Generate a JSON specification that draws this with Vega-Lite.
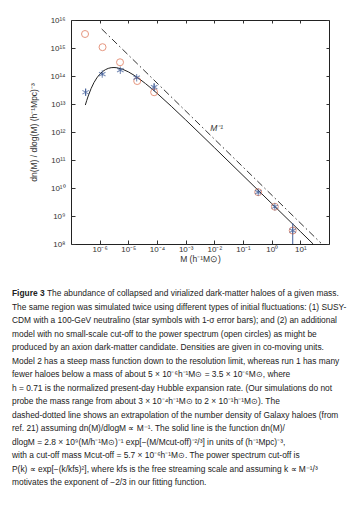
{
  "$schema": "https://vega.github.io/schema/vega-lite/v6.json",
  "width": 258,
  "height": 224,
  "padding": {"left": 12, "top": 16, "right": 2, "bottom": 2},
  "background": "white",
  "config": {
    "view": {"stroke": "#222", "strokeWidth": 1},
    "font": "Liberation Sans",
    "axis": {"grid": false, "domain": false, "labelFont": "Liberation Sans", "titleFont": "Liberation Sans", "labelColor": "#333", "titleColor": "#333", "tickColor": "#333", "labelOverlap": false, "labelFlush": false}
  },
  "datasets": {
    "curve": [
      {"M": 3.162e-7, "dn": 9.18e12}, {"M": 3.548e-7, "dn": 1.352e13}, {"M": 3.981e-7, "dn": 1.923e13},
      {"M": 5.012e-7, "dn": 3.548e13}, {"M": 6.31e-7, "dn": 5.794e13}, {"M": 7.943e-7, "dn": 8.531e13},
      {"M": 1e-6, "dn": 1.151e14}, {"M": 1.259e-6, "dn": 1.439e14}, {"M": 1.585e-6, "dn": 1.687e14},
      {"M": 1.995e-6, "dn": 1.871e14}, {"M": 2.512e-6, "dn": 1.982e14}, {"M": 3.162e-6, "dn": 2.009e14},
      {"M": 3.981e-6, "dn": 1.972e14}, {"M": 6.31e-6, "dn": 1.742e14}, {"M": 1e-5, "dn": 1.406e14},
      {"M": 1.585e-5, "dn": 1.064e14}, {"M": 2.512e-5, "dn": 7.674e13}, {"M": 3.981e-5, "dn": 5.346e13},
      {"M": 6.31e-5, "dn": 3.631e13}, {"M": 1e-4, "dn": 2.415e13}, {"M": 3.162e-4, "dn": 8.26e12},
      {"M": 1e-3, "dn": 2.71e12}, {"M": 3.162e-3, "dn": 8.73e11}, {"M": 1e-2, "dn": 2.78e11},
      {"M": 0.1, "dn": 2.793e10}, {"M": 1, "dn": 2.8e9}, {"M": 10, "dn": 2.8e8}, {"M": 27.99, "dn": 1.0e8}
    ],
    "mline": [{"M": 1.175e-6, "dn": 4.786e15}, {"M": 52.48, "dn": 1.072e8}],
    "circles": [
      {"M": 3.09e-7, "dn": 3.16e15}, {"M": 1.26e-6, "dn": 1.07e15}, {"M": 5.13e-6, "dn": 3.09e14},
      {"M": 2.04e-5, "dn": 6.61e13}, {"M": 7.94e-5, "dn": 2.63e13}, {"M": 0.339, "dn": 7.08e9},
      {"M": 1.29, "dn": 2.14e9}, {"M": 5.43, "dn": 3.02e8}
    ],
    "stars": [
      {"M": 3.24e-7, "dn": 2.63e13, "lo": 2.0e13, "hi": 3.5e13},
      {"M": 1.23e-6, "dn": 1.17e14, "lo": 1.05e14, "hi": 1.3e14},
      {"M": 5.25e-6, "dn": 1.62e14, "lo": 1.5e14, "hi": 1.75e14},
      {"M": 1.95e-5, "dn": 8.71e13, "lo": 7.8e13, "hi": 9.7e13},
      {"M": 7.94e-5, "dn": 3.98e13, "lo": 2.9e13, "hi": 5.5e13},
      {"M": 0.339, "dn": 7.08e9, "lo": 6.3e9, "hi": 7.9e9},
      {"M": 1.29, "dn": 2.14e9, "lo": 1.9e9, "hi": 2.4e9},
      {"M": 5.43, "dn": 3.02e8, "lo": 1.0e8, "hi": 5.6e8}
    ],
    "label": [{"M": 0.012, "dn": 1.35e12, "t": "M⁻¹"}]
  },
  "title": {
    "text": "Figure 3",
    "subtitle": [
      "\u200b\u00a0\u00a0\u00a0\u00a0\u00a0\u00a0\u00a0\u00a0\u00a0\u00a0\u00a0\u00a0\u00a0\u00a0\u00a0The abundance of collapsed and virialized dark-matter haloes of a given mass.",
      "The same region was simulated twice using different types of initial fluctuations: (1) SUSY-",
      "CDM with a 100-GeV neutralino (star symbols with 1-σ error bars); and (2) an additional",
      "model with no small-scale cut-off to the power spectrum (open circles) as might be",
      "produced by an axion dark-matter candidate. Densities are given in co-moving units.",
      "Model 2 has a steep mass function down to the resolution limit, whereas run 1 has many",
      "fewer haloes below a mass of about 5 × 10⁻⁶h⁻¹M⊙ = 3.5 × 10⁻⁶M⊙, where",
      "h = 0.71 is the normalized present-day Hubble expansion rate. (Our simulations do not",
      "probe the mass range from about 3 × 10⁻⁴h⁻¹M⊙ to 2 × 10⁻¹h⁻¹M⊙). The",
      "dashed-dotted line shows an extrapolation of the number density of Galaxy haloes (from",
      "ref. 21) assuming dn(M)/dlogM ∝ M⁻¹. The solid line is the function dn(M)/",
      "dlogM = 2.8 × 10⁹(M/h⁻¹M⊙)⁻¹  exp[−(M/Mcut-off)⁻²/³] in units of (h⁻¹Mpc)⁻³,",
      "with a cut-off mass Mcut-off = 5.7 × 10⁻⁶h⁻¹M⊙. The power spectrum cut-off is",
      "P(k) ∝ exp[−(k/kfs)²], where kfs is the free streaming scale and assuming k ∝ M⁻¹/³",
      "motivates the exponent of −2/3 in our fitting function."
    ],
    "orient": "bottom",
    "anchor": "start",
    "frame": "bounds",
    "dx": -17,
    "offset": 26,
    "font": "Liberation Sans",
    "fontSize": 8.4,
    "fontWeight": "bold",
    "color": "#222",
    "subtitleFont": "Liberation Sans",
    "subtitleFontSize": 8.4,
    "subtitleColor": "#222",
    "subtitleLineHeight": 13.5,
    "subtitlePadding": -8.4
  },
  "resolve": {"axis": {"x": "independent", "y": "independent"}},
  "layer": [
    {
      "data": {"name": "curve"},
      "mark": {"type": "line", "color": "#222", "strokeWidth": 1, "clip": true},
      "encoding": {
        "x": {"field": "M", "type": "quantitative", "scale": {"type": "log", "domain": [1e-7, 100], "nice": false},
          "axis": {"orient": "bottom", "values": [1e-6, 1e-5, 1e-4, 1e-3, 1e-2, 0.1, 1, 10],
            "labelExpr": "'10' + (round(log(datum.value)/LN10) < 0 ? '⁻' : '') + (abs(round(log(datum.value)/LN10)) >= 10 ? '¹' : '') + substring('⁰¹²³⁴⁵⁶⁷⁸⁹', abs(round(log(datum.value)/LN10)) % 10, abs(round(log(datum.value)/LN10)) % 10 + 1)",
            "tickSize": -4, "labelPadding": 5.5, "labelFontSize": 8,
            "title": "M (h⁻¹M⊙)", "titleFontSize": 8.5, "titleFontWeight": "normal", "titlePadding": 1}},
        "y": {"field": "dn", "type": "quantitative", "scale": {"type": "log", "domain": [1e8, 1e16], "nice": false},
          "axis": {"orient": "left", "values": [1e8, 1e9, 1e10, 1e11, 1e12, 1e13, 1e14, 1e15, 1e16],
            "labelExpr": "'10' + (round(log(datum.value)/LN10) < 0 ? '⁻' : '') + (abs(round(log(datum.value)/LN10)) >= 10 ? '¹' : '') + substring('⁰¹²³⁴⁵⁶⁷⁸⁹', abs(round(log(datum.value)/LN10)) % 10, abs(round(log(datum.value)/LN10)) % 10 + 1)",
            "tickSize": -4, "labelPadding": 10, "labelFontSize": 8,
            "title": "dn(M) / dlog(M)   (h⁻¹Mpc)⁻³", "titleFontSize": 8.5, "titleFontWeight": "normal", "titlePadding": 12}}
      }
    },
    {
      "data": {"name": "mline"},
      "mark": {"type": "line", "color": "#333", "strokeWidth": 1, "strokeDash": [7, 3, 1.5, 3], "clip": true},
      "encoding": {
        "x": {"field": "M", "type": "quantitative", "scale": {"type": "log", "domain": [1e-7, 100], "nice": false},
          "axis": {"orient": "top", "values": [1e-6, 1e-5, 1e-4, 1e-3, 1e-2, 0.1, 1, 10], "labels": false, "tickSize": -3, "title": null}},
        "y": {"field": "dn", "type": "quantitative", "scale": {"type": "log", "domain": [1e8, 1e16], "nice": false},
          "axis": {"orient": "right", "values": [1e8, 1e9, 1e10, 1e11, 1e12, 1e13, 1e14, 1e15, 1e16], "labels": false, "tickSize": -3, "title": null}}
      }
    },
    {
      "data": {"name": "stars"},
      "mark": {"type": "rule", "color": "#44609a", "strokeWidth": 1},
      "encoding": {
        "x": {"field": "M", "type": "quantitative", "scale": {"type": "log", "domain": [1e-7, 100], "nice": false}, "axis": null},
        "y": {"field": "lo", "type": "quantitative", "scale": {"type": "log", "domain": [1e8, 1e16], "nice": false}, "axis": null},
        "y2": {"field": "hi"}
      }
    },
    {
      "data": {"name": "circles"},
      "mark": {"type": "point", "shape": "circle", "filled": false, "color": "#dc6b4a", "size": 49, "strokeWidth": 1},
      "encoding": {
        "x": {"field": "M", "type": "quantitative", "scale": {"type": "log", "domain": [1e-7, 100], "nice": false}, "axis": null},
        "y": {"field": "dn", "type": "quantitative", "scale": {"type": "log", "domain": [1e8, 1e16], "nice": false}, "axis": null}
      }
    },
    {
      "data": {"name": "stars"},
      "mark": {"type": "point", "shape": "M0,-1L0,1M-0.87,-0.5L0.87,0.5M-0.87,0.5L0.87,-0.5", "filled": false, "color": "#44609a", "size": 56, "strokeWidth": 1.1},
      "encoding": {
        "x": {"field": "M", "type": "quantitative", "scale": {"type": "log", "domain": [1e-7, 100], "nice": false}, "axis": null},
        "y": {"field": "dn", "type": "quantitative", "scale": {"type": "log", "domain": [1e8, 1e16], "nice": false}, "axis": null}
      }
    },
    {
      "data": {"name": "label"},
      "mark": {"type": "text", "font": "Liberation Sans", "fontSize": 8.5, "fontStyle": "italic", "color": "#333", "align": "center", "baseline": "middle"},
      "encoding": {
        "x": {"field": "M", "type": "quantitative", "scale": {"type": "log", "domain": [1e-7, 100], "nice": false}, "axis": null},
        "y": {"field": "dn", "type": "quantitative", "scale": {"type": "log", "domain": [1e8, 1e16], "nice": false}, "axis": null},
        "text": {"field": "t"}
      }
    }
  ]
}
